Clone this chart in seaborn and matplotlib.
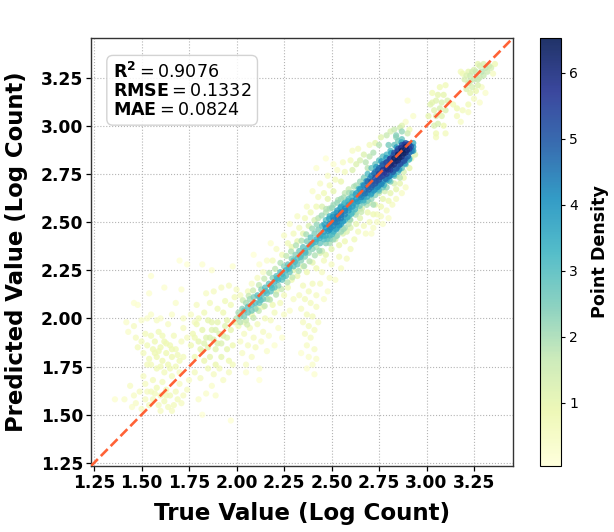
import numpy as np
import matplotlib
matplotlib.use("Agg")
import matplotlib.pyplot as plt
from matplotlib.colors import Normalize
from matplotlib.cm import ScalarMappable
import pandas as pd
import seaborn as sns

# Each region of the scatter is a list of (true, predicted, density) rows.
low_left = [
(1.46,1.96,.5),(1.47,1.90,.5),(1.48,1.85,.6),(1.50,1.88,.6),(1.51,1.82,.6),(1.52,1.92,.6),(1.53,1.86,.7),(1.54,1.79,.7),
(1.55,1.91,.7),(1.56,1.84,.8),(1.57,1.88,.8),(1.58,1.80,.8),(1.59,1.93,.7),(1.60,1.85,.8),(1.61,1.78,.8),(1.62,1.88,.8),
(1.63,1.82,.8),(1.64,1.76,.8),(1.65,1.86,.8),(1.66,1.80,.8),(1.67,1.91,.6),(1.68,1.84,.7),(1.70,1.78,.7),(1.71,1.88,.5),
(1.72,1.95,.5),(1.58,1.74,.7),(1.60,1.75,.7),(1.55,1.76,.6),(1.65,1.74,.7),(1.68,1.75,.7),(1.72,1.80,.6),(1.74,1.90,.5),
(1.59,1.83,.8),(1.63,1.87,.8),(1.61,1.91,.7),(1.57,1.82,.8),(1.66,1.84,.8),(1.69,1.81,.7),(1.53,1.76,.6),(1.62,1.72,.6),
(1.44,1.65,.4),(1.46,1.60,.4),(1.47,1.56,.4),(1.49,1.62,.5),(1.51,1.70,.5),(1.52,1.66,.5),(1.52,1.58,.5),(1.54,1.55,.6),
(1.55,1.62,.6),(1.56,1.68,.6),(1.56,1.58,.6),(1.58,1.64,.7),(1.59,1.55,.6),(1.60,1.60,.7),(1.61,1.67,.6),(1.62,1.57,.7),
(1.63,1.63,.7),(1.64,1.54,.6),(1.65,1.60,.7),(1.66,1.70,.6),(1.67,1.55,.6),(1.68,1.62,.6),(1.69,1.58,.6),(1.70,1.66,.5),
(1.71,1.56,.5),(1.72,1.60,.5),(1.74,1.63,.5),(1.75,1.68,.4),(1.70,1.72,.5),(1.66,1.52,.5),(1.60,1.52,.5),(1.41,1.58,.3),
(1.36,1.58,.2),(1.50,1.53,.4),(1.63,1.60,.7),(1.57,1.61,.6),(1.53,1.62,.5),(1.45,1.54,.3),
(1.42,1.98,.3),(1.43,1.93,.3),(1.46,2.08,.2),(1.48,2.07,.2),(1.54,2.13,.2),(1.55,2.22,.2),(1.62,2.16,.2),(1.68,2.08,.3),
(1.72,2.00,.4),(1.76,2.02,.4),(1.78,1.98,.5),(1.66,2.02,.3),(1.60,2.00,.3),(1.58,1.99,.4),(1.53,2.00,.3),(1.71,2.15,.2),
(1.74,2.28,.1),(1.82,2.28,.2),(1.87,2.25,.2),(1.98,2.27,.2),(1.70,2.30,.1),(1.55,2.02,.3),(1.50,1.99,.3),(1.64,1.97,.4),
]
low_middle = [
(1.76,1.86,.8),(1.77,1.92,.8),(1.78,1.80,.8),(1.79,1.97,.8),(1.80,1.88,1.),(1.81,1.84,1.),(1.82,1.94,1.),(1.83,1.78,.9),
(1.84,1.90,1.1),(1.85,1.99,1.),(1.85,1.85,1.1),(1.86,1.80,1.),(1.87,1.94,1.1),(1.88,1.89,1.2),(1.89,1.76,.9),(1.89,1.84,1.1),
(1.90,1.98,1.),(1.91,1.92,1.2),(1.92,1.80,1.),(1.92,1.87,1.2),(1.93,2.03,.8),(1.94,1.96,1.1),(1.95,1.84,1.),(1.95,1.90,1.1),
(1.96,1.78,.8),(1.97,1.94,1.),(1.97,2.07,.7),(1.98,1.86,.8),(1.99,1.98,1.),(1.99,2.11,.6),(1.94,2.09,.7),(1.90,2.05,.7),
(1.86,2.08,.6),(1.83,2.03,.7),(1.80,2.00,.7),(1.88,2.14,.5),(1.92,2.16,.5),(1.96,2.17,.5),(1.84,2.13,.4),(2.00,2.15,.5),
(1.78,1.72,.6),(1.81,1.69,.5),(1.85,1.74,.7),(1.88,1.71,.5),(1.91,1.74,.6),(1.93,1.68,.4),(1.96,1.72,.5),(1.87,1.65,.3),
(1.84,1.61,.3),(1.89,1.60,.3),(1.80,1.58,.3),(1.82,1.50,.1),(1.97,1.47,.1),(1.79,2.07,.5),(1.95,1.99,1.),(1.87,1.98,1.),
(1.98,1.76,.6),(1.93,1.91,1.2),(1.86,1.90,1.2),(1.90,1.87,1.2),(1.83,1.87,1.1),(1.89,1.94,1.2),(1.82,1.83,1.),(1.78,1.90,.8),
]
low_right = [
(2.02,1.88,.4),(2.03,1.82,.4),(2.04,1.92,.5),(2.05,1.76,.4),(2.06,1.86,.5),(2.07,1.95,.6),(2.08,1.80,.4),(2.09,1.90,.5),
(2.10,1.85,.5),(2.11,1.97,.6),(2.12,1.74,.3),(2.13,1.88,.4),(2.14,1.93,.5),(2.15,2.00,.6),(2.16,1.83,.3),(2.04,1.98,.6),
(2.01,1.96,.7),(2.08,2.02,.8),(2.11,2.05,.9),(2.14,2.06,.9),(2.17,2.10,1.),(2.19,2.07,.8),(2.21,2.14,1.),(2.18,1.99,.5),
(2.20,2.03,.6),(2.23,2.08,.6),(2.25,2.12,.6),(2.27,2.16,.7),(2.29,2.20,.8),(2.22,1.95,.3),(2.25,2.02,.4),(2.17,1.91,.3),
(2.05,1.72,.2),(2.12,1.68,.1),(2.30,2.10,.4),(2.28,2.04,.3),(2.24,1.90,.2),(2.20,1.86,.2),
(2.33,2.12,.5),(2.34,2.05,.5),(2.35,1.98,.5),(2.35,2.17,.6),(2.36,1.92,.5),(2.36,2.10,.6),(2.37,2.02,.6),(2.37,1.86,.4),
(2.38,2.14,.6),(2.38,1.96,.6),(2.39,2.08,.6),(2.39,1.90,.5),(2.40,2.18,.6),(2.40,2.01,.6),(2.41,1.84,.4),(2.41,1.94,.5),
(2.42,2.12,.5),(2.42,2.06,.5),(2.43,1.98,.4),(2.44,2.18,.5),(2.38,1.80,.3),(2.40,1.76,.3),(2.42,1.79,.3),(2.37,1.74,.2),
(2.41,1.71,.2),(2.34,1.82,.2),(2.46,2.10,.3),(2.48,2.14,.3),(2.45,2.24,.5),(2.49,2.21,.4),(2.52,2.20,.3),(2.55,2.26,.4),
(2.46,2.30,.6),(2.50,2.28,.5),(2.54,2.32,.6),(2.58,2.31,.5),(2.60,2.36,.6),(2.57,2.40,.8),(2.62,2.41,.7),
]
upper_fringe = [
(2.08,2.18,.4),(2.06,2.14,.6),(2.02,2.12,.5),(2.11,2.21,.5),(2.14,2.24,.4),(2.16,2.30,.3),(2.12,2.28,.2),(2.09,2.33,.1),
(2.19,2.30,.6),(2.21,2.36,.4),(2.24,2.33,.7),(2.18,2.39,.2),(2.27,2.39,.7),(2.25,2.43,.4),(2.29,2.37,.9),(2.30,2.44,.6),
(2.32,2.40,1.),(2.33,2.47,.6),(2.28,2.49,.3),(2.35,2.44,1.),(2.36,2.52,.6),(2.32,2.53,.4),(2.38,2.48,1.2),(2.39,2.55,.7),
(2.41,2.51,1.3),(2.37,2.58,.4),(2.42,2.58,.7),(2.43,2.63,.5),(2.40,2.66,.3),(2.45,2.58,1.2),(2.46,2.65,.7),(2.48,2.62,1.),
(2.44,2.70,.4),(2.49,2.69,.6),(2.51,2.66,1.),(2.48,2.74,.4),(2.52,2.72,.6),(2.55,2.71,.9),(2.53,2.77,.3),(2.57,2.76,.6),
(2.42,2.78,.2),(2.51,2.80,.2),(2.47,2.83,.1),(2.56,2.81,.4),(2.61,2.77,1.2),(2.60,2.82,.6),(2.63,2.80,1.2),(2.61,2.87,.4),
(2.65,2.82,1.3),(2.64,2.88,.5),(2.67,2.85,1.2),(2.68,2.81,1.8),(2.70,2.84,1.7),(2.70,2.90,.6),(2.72,2.86,1.9),(2.73,2.91,1.),
(2.75,2.90,1.8),(2.76,2.94,1.1),(2.79,2.95,1.6),(2.81,2.97,1.3),(2.83,2.98,1.6),(2.84,2.95,2.4),(2.86,2.99,1.4),(2.87,2.97,2.2),
]
lower_fringe = [
(2.30,2.25,1.1),(2.32,2.22,.9),(2.35,2.27,1.),(2.37,2.24,.8),(2.40,2.29,1.),(2.42,2.26,.8),(2.44,2.34,1.2),(2.47,2.33,1.),
(2.50,2.36,1.1),(2.52,2.41,1.3),(2.54,2.38,.9),(2.56,2.44,1.2),(2.58,2.45,1.2),(2.60,2.47,1.2),(2.63,2.49,1.),(2.65,2.52,1.1),
(2.60,2.51,1.4),(2.67,2.48,.6),(2.70,2.50,.6),(2.72,2.47,.4),(2.69,2.55,.9),(2.72,2.54,.8),(2.74,2.50,.5),(2.76,2.53,.5),
(2.66,2.57,1.3),(2.70,2.60,1.2),(2.73,2.59,1.),(2.76,2.58,.8),(2.79,2.56,.5),(2.77,2.62,1.),(2.80,2.61,.8),(2.82,2.59,.5),
(2.84,2.62,.5),(2.75,2.65,1.4),(2.78,2.66,1.4),(2.81,2.65,1.),(2.84,2.67,1.),(2.87,2.65,.4),(2.83,2.70,1.3),(2.86,2.70,1.),
(2.88,2.73,.8),(2.89,2.68,.4),(2.74,2.54,.6),(2.71,2.44,.3),(2.77,2.49,.3),(2.80,2.52,.3),(2.64,2.45,.6),(2.68,2.44,.4),
(2.75,2.71,1.9),(2.79,2.71,2.),(2.84,2.74,1.8),(2.88,2.76,1.3),(2.91,2.78,1.),(2.92,2.83,1.),(2.86,2.78,2.4),(2.90,2.82,1.6),
(2.94,2.85,1.2),(2.93,2.87,1.8),
]
top_right = [
(3.20,3.24,1.3),(3.21,3.19,1.2),(3.22,3.22,1.4),(3.23,3.26,1.5),(3.24,3.20,1.3),(3.25,3.24,1.6),(3.26,3.28,1.6),(3.27,3.21,1.2),
(3.28,3.25,1.6),(3.29,3.28,1.8),(3.30,3.26,1.6),(3.31,3.30,1.7),(3.32,3.28,1.5),(3.33,3.31,1.5),(3.34,3.30,1.3),(3.28,3.31,1.3),
(3.25,3.29,1.2),(3.22,3.28,1.),(3.19,3.27,.8),(3.18,3.28,.6),(3.23,3.17,1.),(3.26,3.18,.9),(3.29,3.20,.5),(3.31,3.17,.3),
(3.25,3.14,.5),(3.28,3.12,.3),(3.21,3.26,1.2),(3.27,3.32,1.),(3.30,3.32,1.2),(3.36,3.32,.8),(3.35,3.27,.5),(3.24,3.28,1.4),
(3.27,3.24,1.6),(3.23,3.23,1.5),
]
upper_gap = [
(3.03,3.17,.7),(3.07,3.20,.7),(3.10,3.21,.7),(3.06,3.16,1.),(3.09,3.16,1.),(3.08,3.12,1.2),(3.11,3.13,1.2),(3.05,3.13,1.1),
(3.03,3.12,1.),(3.02,3.11,1.1),(3.04,3.08,1.1),(3.07,3.09,1.3),(3.10,3.08,1.2),(3.01,3.05,1.),(3.05,3.05,1.3),(3.08,3.05,1.1),
(3.06,3.01,1.3),(3.09,3.00,.8),(3.04,3.00,1.2),(3.05,2.96,.8),(3.10,2.96,.6),(3.05,2.94,.6),(3.16,3.09,.8),(3.19,3.08,.6),
(3.16,3.05,.6),(3.22,3.07,.5),(3.18,3.02,.4),(3.22,3.11,.7),(3.14,3.11,.7),
(2.90,3.13,.2),(2.89,3.02,.3),(2.93,3.05,.3),(2.91,2.98,.7),(2.87,3.00,1.1),(2.90,2.96,1.5),
]
band_low = [
(2.00,2.00,1.8),(2.01,2.03,2.),(2.02,1.98,1.8),(2.02,2.01,2.4),(2.03,2.05,2.3),(2.04,2.01,2.5),(2.04,2.04,2.8),(2.05,2.08,2.),
(2.05,1.99,1.6),(2.06,2.03,2.7),(2.06,2.06,2.9),(2.07,2.10,2.1),(2.08,2.04,2.6),(2.08,2.07,3.),(2.09,2.11,2.5),(2.10,2.05,2.3),
(2.10,2.08,3.),(2.11,2.12,2.9),(2.12,2.08,2.7),(2.12,2.11,3.1),(2.13,2.15,2.3),(2.14,2.10,2.6),(2.14,2.13,3.1),(2.15,2.16,2.9),
(2.16,2.10,2.),(2.16,2.13,3.),(2.17,2.18,2.8),(2.18,2.14,2.9),(2.18,2.17,3.2),(2.19,2.21,2.3),(2.20,2.16,2.8),(2.20,2.19,3.3),
(2.21,2.22,2.9),(2.22,2.17,2.4),(2.22,2.20,3.3),(2.23,2.24,3.),(2.24,2.20,2.8),(2.24,2.23,3.3),(2.25,2.27,2.3),(2.26,2.22,2.8),
(2.26,2.25,3.3),(2.27,2.28,2.8),(2.28,2.24,2.8),(2.28,2.27,3.2),(2.29,2.31,2.3),(2.30,2.27,2.9),(2.30,2.30,3.),(2.31,2.33,2.4),
(2.32,2.28,2.7),(2.32,2.31,3.),(2.33,2.35,2.6),(2.34,2.30,2.3),(2.34,2.33,3.),(2.35,2.37,2.8),(2.36,2.32,2.4),(2.36,2.35,3.1),
(2.37,2.40,2.5),(2.38,2.34,2.2),(2.38,2.37,3.2),(2.39,2.42,2.9),(2.40,2.36,2.3),(2.40,2.39,3.3),(2.41,2.44,2.5),(2.42,2.37,1.9),
(2.42,2.41,3.4),(2.43,2.46,2.5),(2.44,2.39,2.8),(2.44,2.43,3.6),(2.45,2.48,3.),(2.45,2.35,1.6),(2.46,2.41,3.),(2.46,2.45,3.8),
]
band_low_edges = [
(2.033,2.094,1.5),(2.064,2.117,1.6),(2.087,2.145,1.5),(2.118,2.173,1.7),(2.146,2.206,1.6),(2.172,2.236,1.8),(2.203,2.257,1.7),(2.231,2.288,1.9),
(2.262,2.324,1.7),(2.287,2.347,1.9),(2.313,2.379,1.9),(2.342,2.403,1.9),(2.367,2.436,2.),(2.398,2.466,2.1),(2.422,2.487,2.2),
(2.056,1.968,1.4),(2.089,2.003,1.6),(2.117,2.039,1.7),(2.148,2.064,1.7),(2.176,2.097,1.8),(2.208,2.123,1.8),(2.237,2.152,1.6),(2.268,2.187,1.8),
(2.294,2.213,1.7),(2.327,2.246,1.9),(2.356,2.271,1.9),(2.384,2.296,1.8),(2.412,2.327,1.9),(2.436,2.351,2.1),
(2.127,2.094,2.9),(2.153,2.142,3.1),(2.187,2.158,3.),(2.213,2.208,3.2),(2.246,2.214,3.),(2.276,2.258,3.2),(2.307,2.293,3.1),(2.337,2.318,3.),
(2.363,2.341,3.1),(2.392,2.384,3.3),(2.416,2.396,3.2),(2.438,2.417,3.4),
]
band_mid = [
(2.43,2.52,1.8),(2.47,2.39,2.3),(2.47,2.43,3.4),(2.47,2.47,4.),(2.47,2.51,3.1),(2.47,2.55,1.9),(2.49,2.39,2.),(2.49,2.43,3.1),
(2.49,2.46,4.1),(2.49,2.49,4.3),(2.49,2.53,3.4),(2.49,2.57,2.),(2.51,2.41,2.2),(2.51,2.45,3.4),(2.51,2.48,4.2),(2.51,2.51,4.4),
(2.51,2.54,3.6),(2.51,2.59,2.1),(2.53,2.43,2.1),(2.53,2.47,3.5),(2.53,2.50,4.3),(2.53,2.53,4.5),(2.53,2.56,3.8),(2.53,2.60,2.2),
(2.55,2.45,2.2),(2.55,2.49,3.6),(2.55,2.52,4.4),(2.55,2.55,4.5),(2.55,2.58,3.7),(2.55,2.62,2.1),(2.57,2.47,2.),(2.57,2.51,3.2),
(2.57,2.54,4.2),(2.57,2.57,4.2),(2.57,2.60,3.2),(2.57,2.65,1.7),(2.59,2.49,1.8),(2.59,2.53,2.9),(2.59,2.56,3.9),(2.59,2.59,3.8),
(2.59,2.62,3.),(2.59,2.67,1.6),(2.61,2.55,2.8),(2.61,2.58,3.8),(2.61,2.61,3.8),(2.61,2.65,2.6),(2.63,2.55,1.7),(2.63,2.59,3.1),
(2.63,2.62,4.),(2.63,2.65,3.6),(2.63,2.69,2.),(2.65,2.57,1.7),(2.65,2.61,3.2),(2.65,2.64,4.4),(2.65,2.67,4.),(2.65,2.71,2.2),
(2.67,2.60,2.6),(2.67,2.63,3.6),(2.67,2.66,4.6),(2.67,2.69,4.3),(2.67,2.73,2.5),(2.69,2.61,2.5),(2.69,2.65,3.9),(2.69,2.68,4.8),
(2.69,2.71,4.7),(2.69,2.75,3.1),(2.69,2.78,1.8),
]
band_mid_fill = [
(2.456,2.427,3.3),(2.463,2.488,3.7),(2.478,2.412,2.8),(2.482,2.454,3.9),(2.487,2.518,3.6),(2.496,2.472,4.2),(2.503,2.436,3.1),(2.507,2.527,4.),
(2.518,2.497,4.4),(2.523,2.461,3.7),(2.526,2.548,3.9),(2.534,2.517,4.5),(2.541,2.482,4.),(2.546,2.573,3.6),(2.552,2.536,4.5),(2.561,2.503,3.9),
(2.564,2.592,3.1),(2.572,2.558,4.3),(2.583,2.524,3.5),(2.586,2.608,3.2),(2.594,2.574,3.9),(2.604,2.542,3.2),(2.607,2.631,3.),(2.616,2.596,3.8),
(2.624,2.566,3.2),(2.627,2.643,3.6),(2.638,2.607,3.9),(2.643,2.672,3.3),(2.648,2.584,2.6),(2.657,2.629,4.3),(2.663,2.691,3.4),(2.668,2.612,3.4),
(2.676,2.648,4.6),(2.683,2.712,4.),(2.687,2.631,3.6),(2.696,2.668,4.8),(2.702,2.726,4.3),(2.708,2.643,3.6),
(2.448,2.534,2.1),(2.472,2.568,1.8),(2.503,2.574,2.2),(2.534,2.614,1.9),(2.564,2.628,2.),(2.592,2.651,2.),(2.618,2.684,1.9),(2.492,2.412,2.4),
(2.526,2.428,2.2),(2.562,2.463,2.1),(2.597,2.512,2.2),(2.627,2.538,1.9),(2.656,2.552,1.6),(2.685,2.589,1.9),
]
band_core = [
(2.71,2.62,2.2),(2.71,2.65,3.7),(2.71,2.68,4.7),(2.71,2.71,5.1),(2.71,2.74,4.3),(2.71,2.78,2.9),(2.73,2.64,2.3),(2.73,2.67,3.8),
(2.73,2.70,5.),(2.73,2.73,5.3),(2.73,2.76,4.5),(2.73,2.80,2.8),(2.75,2.66,2.6),(2.75,2.69,4.),(2.75,2.72,5.2),(2.75,2.75,5.5),
(2.75,2.78,4.7),(2.75,2.82,2.9),(2.77,2.68,2.7),(2.77,2.71,4.1),(2.77,2.74,5.4),(2.77,2.77,5.8),(2.77,2.80,4.9),(2.77,2.84,3.),
(2.79,2.68,2.2),(2.79,2.72,3.9),(2.79,2.75,5.4),(2.79,2.78,6.),(2.79,2.81,5.3),(2.79,2.85,3.2),(2.81,2.71,2.6),(2.81,2.74,4.1),
(2.81,2.77,5.6),(2.81,2.80,6.2),(2.81,2.83,5.5),(2.81,2.87,3.1),(2.83,2.74,2.9),(2.83,2.77,4.4),(2.83,2.80,5.9),(2.83,2.83,6.4),
(2.83,2.86,5.2),(2.83,2.90,2.8),(2.85,2.76,3.1),(2.85,2.79,4.6),(2.85,2.82,6.),(2.85,2.85,6.5),(2.85,2.88,5.3),(2.85,2.92,2.6),
(2.87,2.78,2.9),(2.87,2.81,4.6),(2.87,2.84,6.),(2.87,2.87,6.5),(2.87,2.90,5.2),(2.87,2.93,2.8),(2.89,2.80,3.),(2.89,2.83,4.8),
(2.89,2.86,6.),(2.89,2.89,6.3),(2.89,2.91,4.9),(2.91,2.83,3.1),(2.91,2.86,4.6),(2.91,2.88,5.6),(2.91,2.90,5.2),(2.93,2.87,3.6),
(2.93,2.89,3.9),(2.93,2.91,3.4),(2.80,2.90,2.6),(2.84,2.94,2.2),(2.72,2.59,2.),(2.86,2.73,1.8),
]
band_core_fill = [
(2.716,2.692,5.),(2.722,2.663,4.),(2.724,2.752,4.6),(2.737,2.713,5.2),(2.743,2.682,4.2),(2.744,2.769,4.8),(2.758,2.734,5.4),(2.763,2.697,4.3),
(2.766,2.791,4.9),(2.778,2.756,5.7),(2.784,2.724,4.6),(2.786,2.807,5.),(2.798,2.772,5.9),(2.803,2.737,4.5),(2.806,2.826,5.3),(2.817,2.793,6.1),
(2.823,2.759,4.9),(2.826,2.847,5.2),(2.838,2.816,6.3),(2.842,2.778,5.1),(2.846,2.867,5.5),(2.858,2.834,6.4),(2.862,2.801,5.3),(2.865,2.884,5.8),
(2.878,2.856,6.4),(2.883,2.818,5.2),(2.884,2.902,5.6),(2.897,2.873,6.2),(2.902,2.841,5.),(2.904,2.905,5.2),(2.918,2.892,5.),(2.922,2.868,4.4),
(2.735,2.786,3.8),(2.762,2.815,3.9),(2.788,2.833,4.),(2.814,2.858,3.9),(2.842,2.888,3.9),(2.868,2.914,3.5),(2.748,2.668,3.1),(2.776,2.692,3.2),
(2.802,2.716,3.1),(2.828,2.748,3.6),(2.856,2.772,3.8),(2.886,2.804,3.7),(2.908,2.824,3.3),
]
regions = [low_left, low_middle, low_right, upper_fringe, lower_fringe, top_right, upper_gap,
           band_low, band_low_edges, band_mid, band_mid_fill, band_core, band_core_fill]
tick_values = [1.25, 1.50, 1.75, 2.00, 2.25, 2.50, 2.75, 3.00, 3.25]
density_ticks = [1, 2, 3, 4, 5, 6]
metric_lines = [r"$\mathbf{R^2} = 0.9076$", r"$\mathbf{RMSE} = 0.1332$", r"$\mathbf{MAE} = 0.0824$"]

points = pd.DataFrame(sum(regions, []), columns=["true", "pred", "density"]).sort_values("density")
limits = (1.234, 3.455)
norm = Normalize(0.045, 6.53)

fig = plt.figure(figsize=(6.14, 5.32), dpi=100)
ax = fig.add_axes([91 / 614, 1 - 466 / 532, 422 / 614, 428 / 532])
cax = fig.add_axes([540 / 614, 1 - 466 / 532, 21 / 614, 428 / 532])

ax.grid(True, color="#b4b4b4", linestyle=":", linewidth=0.8)
ax.set_axisbelow(True)
sns.scatterplot(data=points, x="true", y="pred", hue="density", palette="YlGnBu", hue_norm=norm,
                s=20, alpha=0.8, linewidth=0, legend=False, ax=ax, zorder=2)
ax.plot(limits, limits, color="#ff5a2b", linestyle="--", linewidth=1.9, alpha=0.95, zorder=3)

ax.set_xlim(limits)
ax.set_ylim(limits)
ax.set_xticks(tick_values)
ax.set_yticks(tick_values)
ax.set_xticklabels([f"{v:.2f}" for v in tick_values], fontweight="bold", fontsize=12.3)
ax.set_yticklabels([f"{v:.2f}" for v in tick_values], fontweight="bold", fontsize=12.3)
ax.tick_params(length=3.5, width=0.9, pad=2)
ax.set_xlabel("True Value (Log Count)", fontweight="bold", fontsize=16.6, labelpad=7.5)
ax.set_ylabel("Predicted Value (Log Count)", fontweight="bold", fontsize=16.4, labelpad=9)
for spine in ax.spines.values():
    spine.set_color("#333333")
    spine.set_linewidth(1.0)

ax.text(0.052, 0.945, "\n".join(metric_lines), transform=ax.transAxes, va="top", ha="left", fontsize=12.6,
        linespacing=1.05, zorder=5,
        bbox=dict(boxstyle="round,pad=0.35", facecolor="white", edgecolor="#cccccc", alpha=0.85))

colorbar = fig.colorbar(ScalarMappable(norm=norm, cmap="YlGnBu"), cax=cax)
colorbar.solids.set_alpha(0.9)
colorbar.set_ticks(density_ticks)
colorbar.ax.tick_params(labelsize=10, length=3, width=0.8, pad=3)
colorbar.set_label("Point Density", fontweight="bold", fontsize=12.6, labelpad=9)

fig.savefig("out.png", dpi=100)
